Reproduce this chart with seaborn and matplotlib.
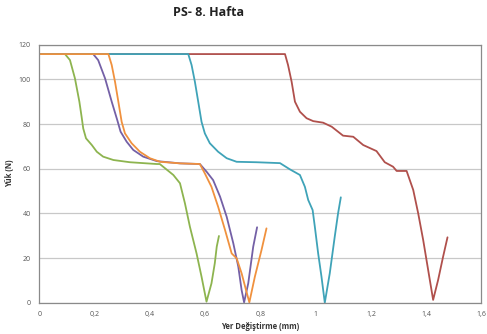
import numpy as np
import pandas as pd
import matplotlib
matplotlib.use('Agg')
import matplotlib.pyplot as plt
import seaborn as sns

# values (x in mm, y in N)
red_x = [0, 0.889, 0.900, 0.913, 0.925, 0.943, 0.967, 0.991, 1.027, 1.058, 1.099, 1.136, 1.172, 1.220,
         1.250, 1.280, 1.293, 1.329, 1.353, 1.371, 1.389, 1.407, 1.425, 1.443, 1.461, 1.477]
red_y = [111.3, 111.3, 106.4, 98.9, 90.0, 85.5, 82.6, 81.3, 80.6, 78.8, 74.8, 74.3, 70.6, 67.9,
         62.9, 60.9, 59.0, 59.0, 50.5, 40.0, 28.1, 14.7, 1.3, 10.2, 20.6, 29.3]

green_x = [0, 0.093, 0.111, 0.129, 0.145, 0.153, 0.159, 0.169, 0.190, 0.208, 0.231, 0.268, 0.328, 0.425,
           0.436, 0.455, 0.485, 0.509, 0.527, 0.545, 0.569, 0.587, 0.605, 0.623, 0.635, 0.642, 0.650]
green_y = [111.3, 111.3, 108.6, 100.4, 90.0, 83.3, 78.0, 73.6, 70.6, 67.6, 65.4, 63.9, 62.9, 62.1,
           62.1, 60.2, 57.2, 53.5, 44.5, 34.0, 22.1, 11.7, 0.5, 8.7, 17.7, 25.1, 29.9]

purple_x = [0, 0.195, 0.213, 0.238, 0.262, 0.282, 0.294, 0.316, 0.340, 0.376, 0.425, 0.509, 0.581,
            0.605, 0.629, 0.654, 0.678, 0.702, 0.720, 0.732, 0.741, 0.756, 0.774, 0.788]
purple_y = [111.3, 111.3, 108.6, 100.4, 90.0, 81.8, 76.6, 72.1, 68.4, 65.4, 63.4, 62.4, 62.1,
            58.7, 54.9, 47.5, 38.5, 26.6, 16.2, 5.7, 0.2, 8.7, 25.1, 33.8]

cyan_x = [0, 0.539, 0.551, 0.563, 0.575, 0.587, 0.599, 0.617, 0.647, 0.678, 0.714, 0.786, 0.871,
          0.907, 0.943, 0.961, 0.973, 0.989, 0.997, 1.009, 1.021, 1.033, 1.051, 1.069, 1.081, 1.091]
cyan_y = [111.3, 111.3, 106.4, 98.9, 90.0, 81.0, 75.8, 71.4, 67.6, 64.7, 63.1, 62.9, 62.5,
          59.7, 57.2, 51.9, 46.0, 41.5, 34.0, 22.1, 11.7, 0.05, 13.2, 29.6, 40.0, 47.2]

orange_x = [0, 0.250, 0.262, 0.274, 0.286, 0.298, 0.310, 0.334, 0.364, 0.400, 0.437, 0.509, 0.581,
            0.599, 0.623, 0.647, 0.672, 0.696, 0.714, 0.732, 0.748, 0.760, 0.780, 0.804, 0.822]
orange_y = [111.3, 111.3, 106.4, 98.9, 90.0, 81.0, 75.8, 71.4, 67.6, 64.7, 63.1, 62.4, 62.1,
            57.9, 51.9, 43.0, 32.6, 22.1, 19.9, 13.2, 5.7, 0.2, 11.7, 23.6, 33.3]

x_ticks = [0, 0.2, 0.4, 0.6, 0.8, 1.0, 1.2, 1.4, 1.6]
x_tick_labels = ['0', '0,2', '0,4', '0,6', '0,8', '1', '1,2', '1,4', '1,6']
y_ticks = [0, 20, 40, 60, 80, 100]
y_tick_labels = ['0', '20', '40', '60', '80', '100', '120']
y_top = 115.5

series = [(red_x, red_y, '#B0504C'),
          (green_x, green_y, '#8DB44F'),
          (purple_x, purple_y, '#7460A6'),
          (cyan_x, cyan_y, '#3FA3B8'),
          (orange_x, orange_y, '#F0913E')]

sns.set_style('white')
plt.rcParams['font.family'] = ['Open Sans', 'DejaVu Sans']

fig = plt.figure(figsize=(4.87, 3.34), dpi=100)
ax = fig.add_axes([0.0807, 0.0934, 0.908, 0.7728])

for xs, ys, col in series:
    df = pd.DataFrame({'x': xs, 'y': ys})
    sns.lineplot(data=df, x='x', y='y', sort=False, color=col, linewidth=1.3, ax=ax)

ax.set_xlim(0, 1.6)
ax.set_ylim(0, y_top)
ax.set_xticks(x_ticks)
ax.set_xticklabels(x_tick_labels)
ax.set_yticks(y_ticks + [y_top])
ax.set_yticklabels(y_tick_labels)
ax.tick_params(axis='both', length=0, labelsize=5, colors='#555555', pad=6)
ax.grid(axis='y', color='#C8C8C8', linewidth=0.9)
ax.set_axisbelow(True)
for s in ax.spines.values():
    s.set_color('#8A8A8A')
    s.set_linewidth(0.9)

ax.set_xlabel('Yer Değiştirme (mm)', fontsize=5.5, fontweight='bold', color='#333333', labelpad=3)
ax.set_ylabel('Yük (N)', fontsize=5.5, fontweight='bold', color='#333333', labelpad=3)
fig.text(0.429, 0.962, 'PS- 8. Hafta', ha='center', va='center', fontsize=9, fontweight='bold', color='#222222')

fig.savefig('out.png', dpi=100)
plt.close()
